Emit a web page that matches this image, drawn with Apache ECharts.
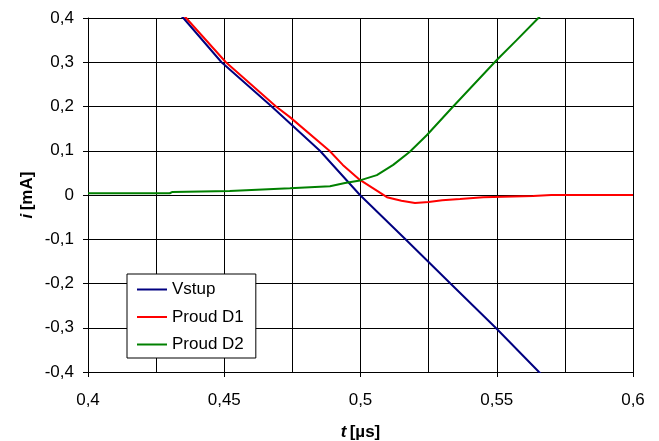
<!DOCTYPE html>
<html>
<head>
<meta charset="utf-8">
<script src="https://cdn.jsdelivr.net/npm/echarts@6/dist/echarts.min.js"></script>
<style>
  html, body { margin: 0; padding: 0; background: #fff; }
  #main { width: 659px; height: 441px; }
</style>
</head>
<body>
<div id="main"></div>
<script>
// hodnoty: [t (us), i (mA)]
var vstup = [[0.42, 0.49], [0.435, 0.40], [0.449, 0.30], [0.4674, 0.20], [0.4741, 0.162],
  [0.4851, 0.10], [0.4998, 0.0], [0.5165, -0.10], [0.533, -0.20], [0.5496, -0.30],
  [0.5655, -0.40], [0.58, -0.49]];
var proudD1 = [[0.42, 0.50], [0.436, 0.40], [0.4506, 0.30], [0.469, 0.20], [0.4741, 0.176],
  [0.4886, 0.10], [0.4935, 0.068], [0.4998, 0.034], [0.5097, -0.005],
  [0.515, -0.013], [0.52, -0.018], [0.525, -0.016], [0.53, -0.012], [0.5365, -0.009],
  [0.545, -0.005], [0.5633, -0.002], [0.57, 0.0], [0.6, 0.0]];
var proudD2 = [[0.4, 0.004], [0.43, 0.004], [0.431, 0.007], [0.452, 0.009], [0.4741, 0.015],
  [0.4888, 0.020], [0.4943, 0.027], [0.4998, 0.033], [0.506, 0.045], [0.512, 0.068],
  [0.518, 0.097], [0.5243, 0.135], [0.5334, 0.196], [0.55, 0.305], [0.5573, 0.35],
  [0.5651, 0.399], [0.575, 0.46]];
var nazvy = ['Vstup', 'Proud D1', 'Proud D2'];
var barvy = ['#000080', '#ff0000', '#008000'];

var myChart = echarts.init(document.getElementById('main'));
var font = 'Liberation Sans, Arial, sans-serif';
var carka = function (v, d) {
  return String(+v.toFixed(d)).replace('.', ',');
};
var mrizka = { show: true, lineStyle: { color: '#000', width: 1 } };
var popisek = {
  rich: {
    it: { fontFamily: font, fontSize: 17, fontWeight: 'bold', fontStyle: 'italic', color: '#000' },
    b: { fontFamily: font, fontSize: 17, fontWeight: 'bold', color: '#000' }
  }
};

var option = {
  animation: false,
  textStyle: { fontFamily: font },
  grid: { left: 88, right: 26, top: 18, bottom: 69, outerBoundsMode: 'none', containLabel: false },
  legend: {
    orient: 'vertical',
    left: 127,
    top: 274,
    padding: [7, 12, 5, 10],
    itemGap: 10.5,
    itemWidth: 30,
    itemHeight: 2,
    icon: 'rect',
    backgroundColor: '#fff',
    borderColor: '#000',
    borderWidth: 1,
    borderRadius: 0,
    textStyle: { fontFamily: font, fontSize: 17, color: '#000' },
    data: nazvy
  },
  xAxis: {
    type: 'value',
    min: 0.4,
    max: 0.6,
    interval: 0.05,
    name: '{it|t} {b|[µs]}',
    nameLocation: 'middle',
    nameGap: 52,
    nameMoveOverlap: false,
    nameTextStyle: popisek,
    axisLine: { onZero: false, lineStyle: { color: '#000', width: 1 } },
    axisTick: { show: true, length: 5, lineStyle: { color: '#000' } },
    axisLabel: {
      fontFamily: font, fontSize: 17, color: '#000', margin: 20,
      formatter: function (v) { return carka(v, 3); }
    },
    splitLine: mrizka,
    minorTick: { show: false, splitNumber: 2 },
    minorSplitLine: mrizka
  },
  yAxis: {
    type: 'value',
    min: -0.4,
    max: 0.4,
    interval: 0.1,
    name: '{it|i} {b|[mA]}',
    nameLocation: 'middle',
    nameGap: 52,
    nameRotate: 90,
    nameMoveOverlap: false,
    nameTextStyle: popisek,
    axisLine: { show: true, onZero: false, lineStyle: { color: '#000', width: 1 } },
    axisTick: { show: true, length: 5, lineStyle: { color: '#000' } },
    axisLabel: {
      fontFamily: font, fontSize: 17, color: '#000', margin: 14,
      formatter: function (v) { return carka(v, 1); }
    },
    splitLine: mrizka
  },
  series: [vstup, proudD1, proudD2].map(function (d, i) {
    return {
      name: nazvy[i],
      type: 'line',
      data: d,
      symbol: 'none',
      clip: true,
      lineStyle: { color: barvy[i], width: 2 },
      itemStyle: { color: barvy[i] }
    };
  })
};
myChart.setOption(option);
</script>
</body>
</html>
